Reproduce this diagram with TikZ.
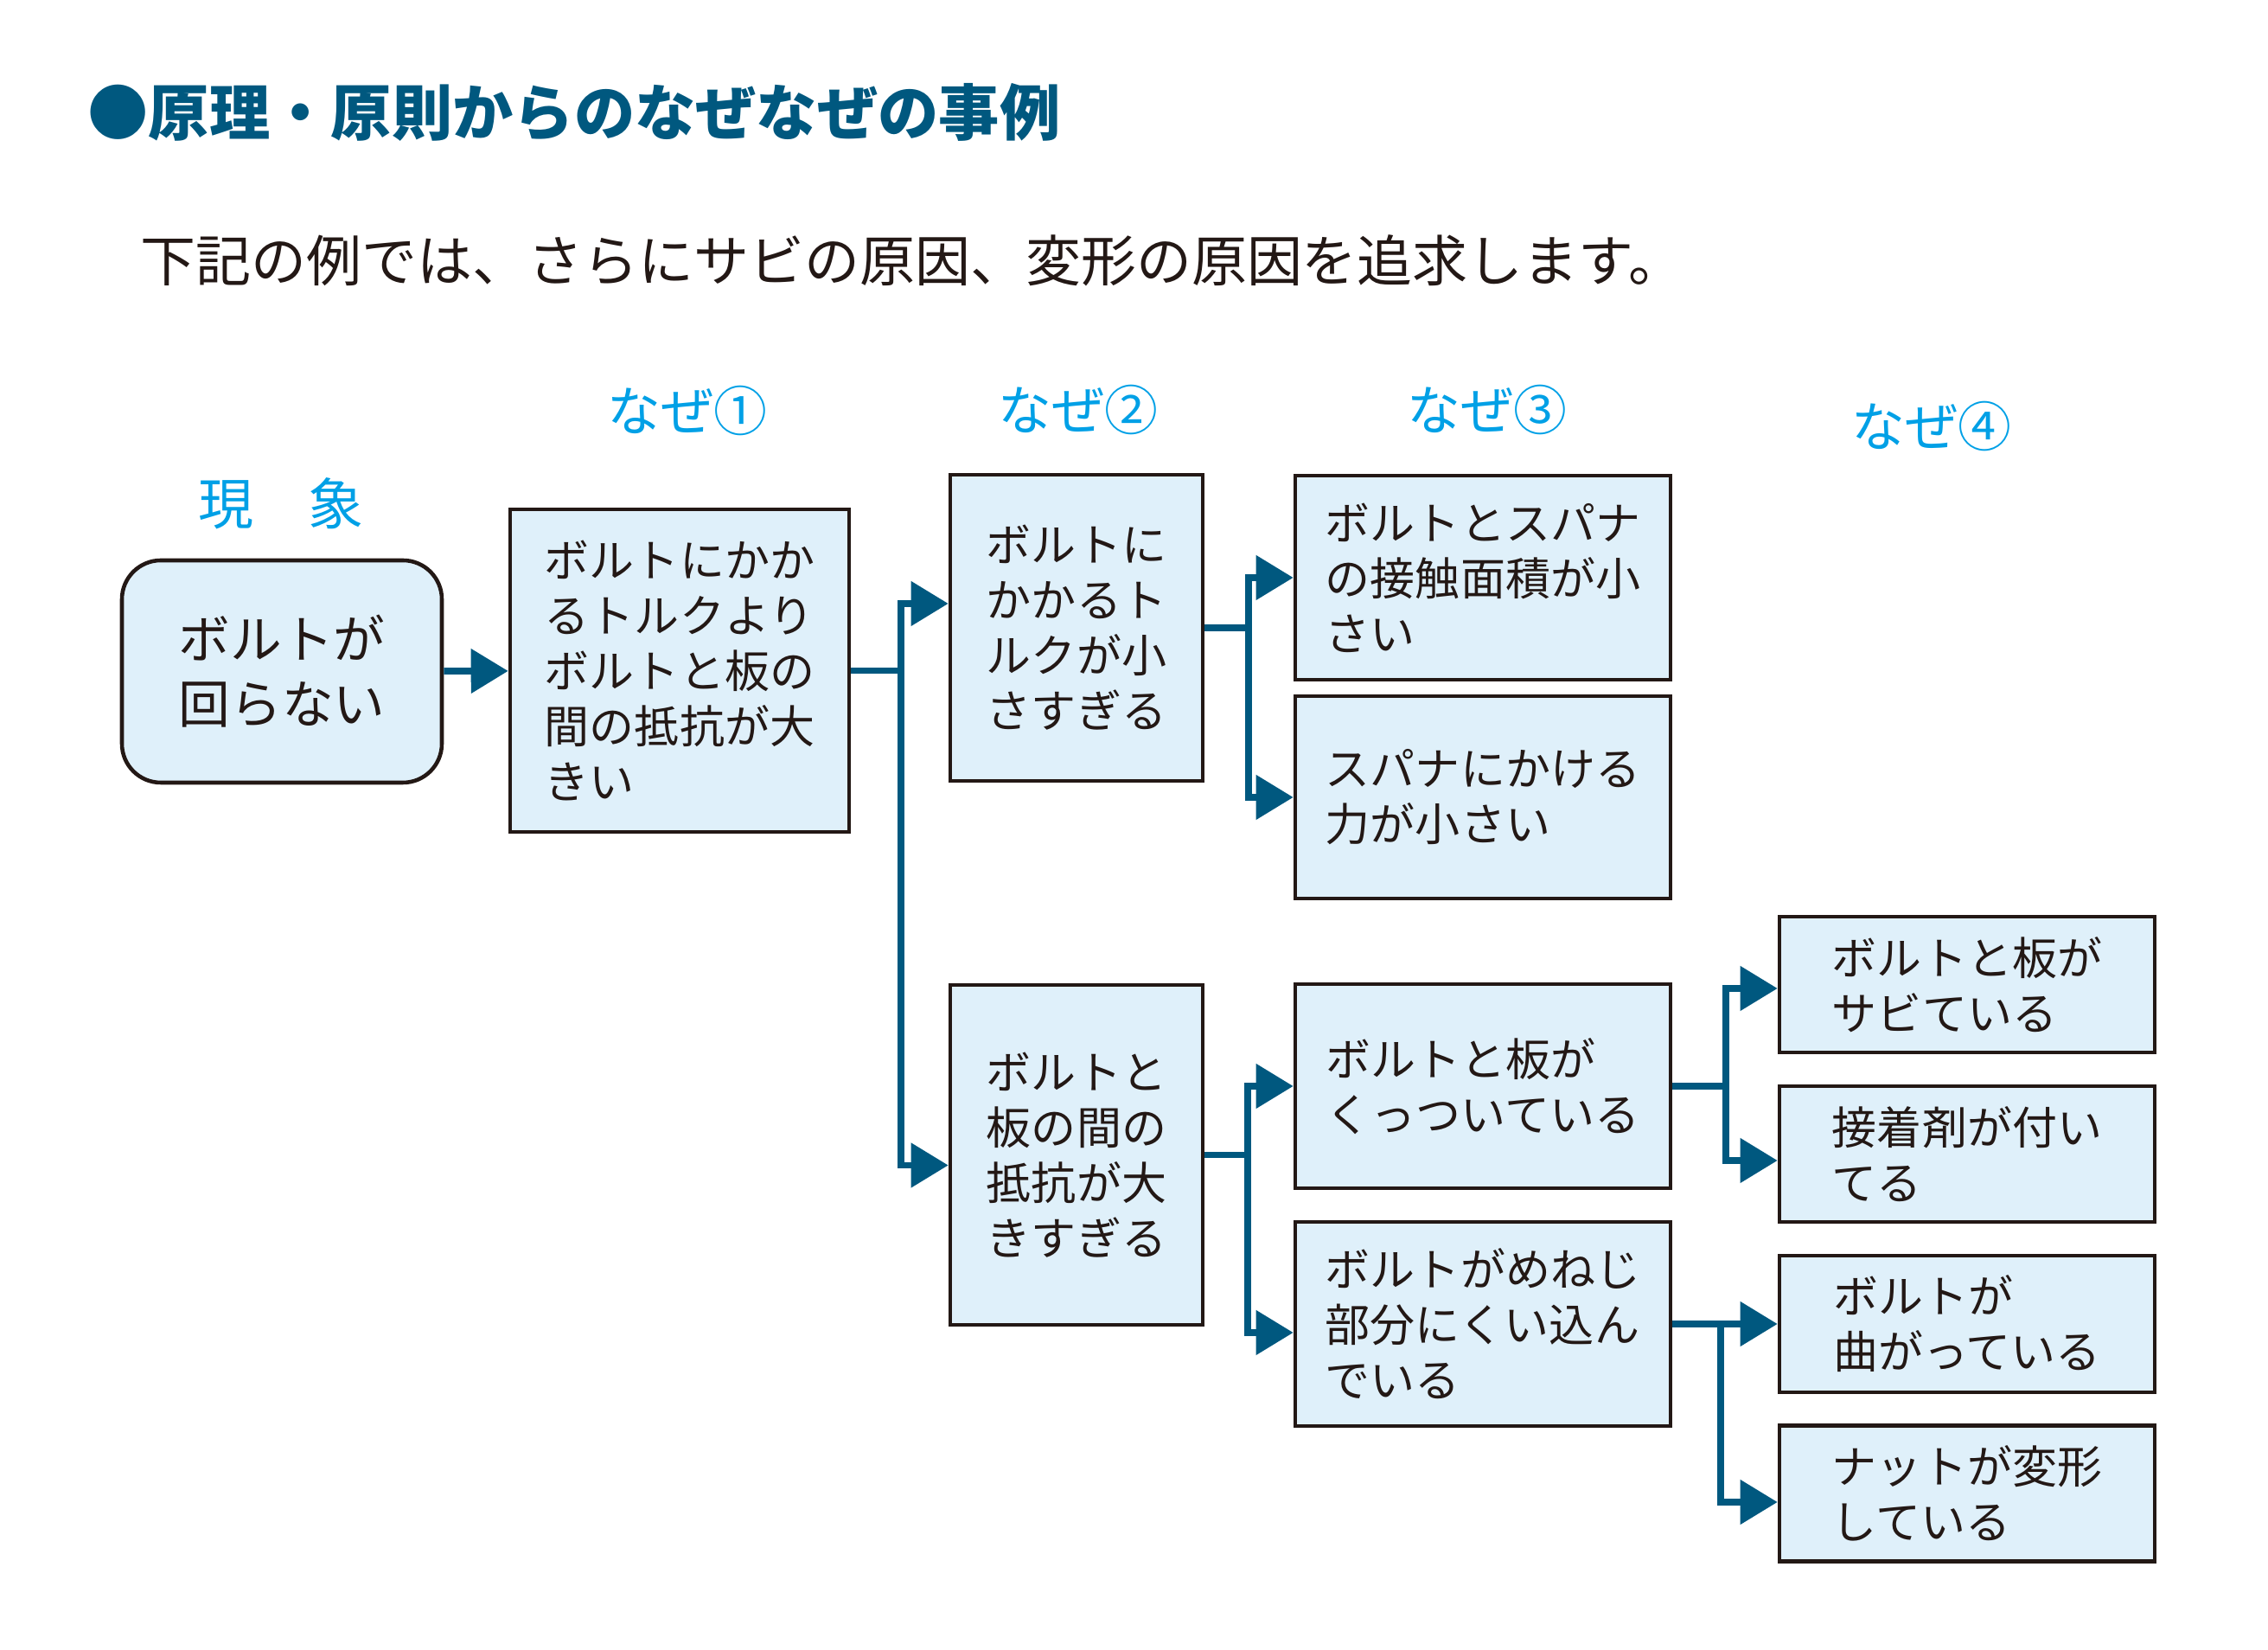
\documentclass[tikz,border=0pt]{standalone}
\usepackage{fontspec}
\setmainfont{Noto Sans CJK JP}
\usepackage{xcolor}
\usetikzlibrary{arrows.meta, positioning, calc}

\definecolor{navy}{HTML}{00587F}
\definecolor{sky}{HTML}{00A0E6}
\definecolor{paleblue}{HTML}{DFF0FA}
\definecolor{inkblack}{HTML}{231815}

\begin{document}
\begin{tikzpicture}[
            cause/.style={rectangle, draw=inkblack, line width=1.3pt, fill=paleblue, text=inkblack, align=left, inner sep=0pt, font=\fontsize{14.8}{18.2}\selectfont},
            phenomenon/.style={cause, rounded corners=4.5mm, font=\fontsize{17}{21.3}\selectfont},
            why_label/.style={text=sky, inner sep=0pt, font=\fontsize{17.6}{20}\selectfont},
            link/.style={-{Triangle[length=4.3mm,width=5mm]}, line width=2.2pt, navy},
            bus/.style={line width=2.2pt, navy}
        ]
            \useasboundingbox (0,0) rectangle (26.23,19.08);

% Headings
            \node[anchor=west, inner sep=0pt, text=navy, font=\fontsize{20}{24}\selectfont\bfseries] (title) at (1.01,17.78) {●原理・原則からのなぜなぜの事例};
            \node[anchor=west, inner sep=0pt, text=inkblack, font=\fontsize{18.2}{22}\selectfont] (intro) at (1.62,16.07) {下記の例では、さらにサビの原因、変形の原因を追求します。};

% Column labels
            \node[why_label, font=\fontsize{18.2}{20}\selectfont] (lbl0) at (3.25,13.26) {現　象};
            \node[why_label] (lbl1) at (7.95,14.33) {なぜ①};
            \node[why_label] (lbl2) at (12.47,14.34) {なぜ②};
            \node[why_label] (lbl3) at (17.20,14.34) {なぜ③};
            \node[why_label] (lbl4) at (22.34,14.15) {なぜ④};

% Boxes
            \node[phenomenon, minimum width=3.70cm, minimum height=2.57cm] (event) at (3.26,11.315) {ボルトが\\回らない};
            \node[cause, minimum width=3.92cm, minimum height=3.73cm] (why1) at (7.86,11.325) {ボルトにかか\\るトルクより\\ボルトと板の\\間の抵抗が大\\きい};
            \node[cause, minimum width=2.92cm, minimum height=3.54cm] (why2a) at (12.45,11.82) {ボルトに\\かかるト\\ルクが小\\さすぎる};
            \node[cause, minimum width=2.92cm, minimum height=3.93cm] (why2b) at (12.45,5.725) {ボルトと\\板の間の\\抵抗が大\\きすぎる};
            \node[cause, minimum width=4.34cm, minimum height=2.36cm] (why3a) at (17.15,12.40) {ボルトとスパナ\\の接触面積が小\\さい};
            \node[cause, minimum width=4.34cm, minimum height=2.34cm] (why3b) at (17.15,9.86) {スパナにかける\\力が小さい};
            \node[cause, minimum width=4.34cm, minimum height=2.36cm] (why3c) at (17.15,6.52) {ボルトと板が\\くっついている};
            \node[cause, minimum width=4.34cm, minimum height=2.36cm] (why3d) at (17.15,3.77) {ボルトがめねじ\\部分にくい込ん\\でいる};
            \node[cause, minimum width=4.34cm, minimum height=1.57cm] (why4a) at (22.75,7.695) {ボルトと板が\\サビている};
            \node[cause, minimum width=4.34cm, minimum height=1.57cm] (why4b) at (22.75,5.735) {接着剤が付い\\てる};
            \node[cause, minimum width=4.34cm, minimum height=1.58cm] (why4c) at (22.75,3.77) {ボルトが\\曲がっている};
            \node[cause, minimum width=4.34cm, minimum height=1.57cm] (why4d) at (22.75,1.81) {ナットが変形\\している};

% Connectors
            \draw[link] (event) -- (why1);

            \draw[bus] (why1.east) -- ++(0.58,0) coordinate (fork1);
            \draw[link] (fork1) |- ([yshift=2.8mm]why2a.west);
            \draw[link] (fork1) |- ([yshift=-1.2mm]why2b.west);

            \draw[bus] (why2a.east) -- ++(0.51,0) coordinate (fork2a);
            \draw[link] (fork2a) |- (why3a.west);
            \draw[link] (fork2a) |- (why3b.west);

            \draw[bus] (why2b.east) -- ++(0.50,0) coordinate (fork2b);
            \draw[link] (fork2b) |- (why3c.west);
            \draw[link] (fork2b) |- ([yshift=-1mm]why3d.west);

            \draw[bus] (why3c.east) -- ++(0.62,0) coordinate (fork3c);
            \draw[link] (fork3c) |- ([yshift=-0.45mm]why4a.west);
            \draw[link] (fork3c) |- ([yshift=-0.75mm]why4b.west);

            \draw[link] (why3d) -- (why4c);
            \coordinate (fork3d) at ($(why3d.east)+(0.56,0)$);
            \draw[link] (fork3d) |- ([yshift=-1mm]why4d.west);

        \end{tikzpicture}
\end{document}
